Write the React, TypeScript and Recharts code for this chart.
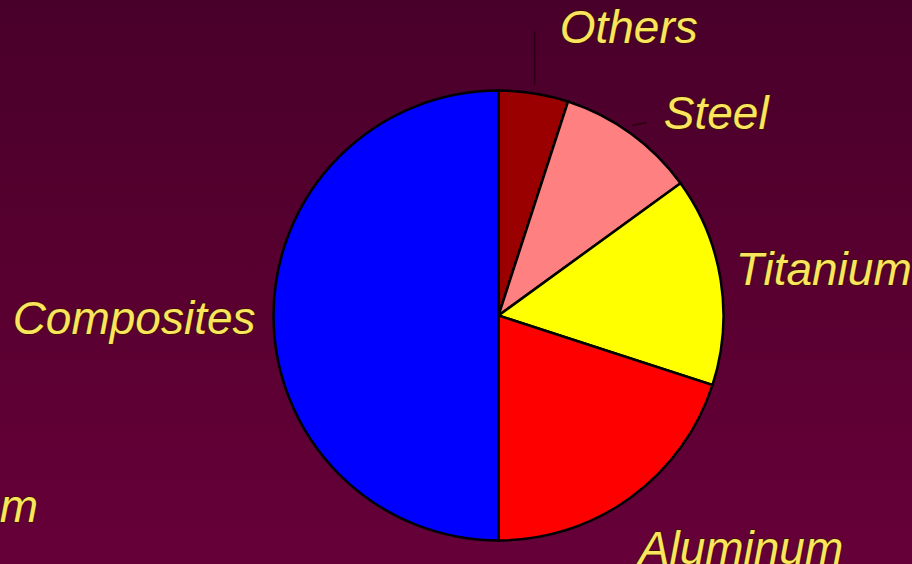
import { PieChart, Pie, Cell } from "recharts";

const materials = ["Others", "Steel", "Titanium", "Aluminum", "Composites"];
const shares = [5, 10, 15, 20, 50];
const sliceColors = ["#9a0000", "#ff8080", "#ffff00", "#ff0000", "#0000ff"];

const data = materials.map((name, i) => ({ name, value: shares[i] }));

// label placement relative to the slice's outer point
const labelOffsets: Record<string, { dx: number; dy: number; anchor: "start" | "end"; leader?: [number, number] }> = {
  Others: { dx: 26, dy: -50, anchor: "start", leader: [1, -62] },
  Steel: { dx: 33, dy: -4, anchor: "start", leader: [16, -11] },
  Titanium: { dx: 15, dy: 5, anchor: "start" },
  Aluminum: { dx: 8, dy: 66, anchor: "start" },
  Composites: { dx: -18, dy: 18, anchor: "end" },
};

const RAD = Math.PI / 180;
const textStyle = {
  fontFamily: "'Liberation Sans', Arial, sans-serif",
  fontStyle: "italic" as const,
  fontSize: 46,
  fill: "#fbe45e",
  stroke: "#3c1400",
  strokeWidth: 1.5,
  paintOrder: "stroke" as const,
};

function renderLabel(props: any) {
  const { cx, cy, outerRadius, midAngle, name } = props;
  const ox = cx + outerRadius * Math.cos(-midAngle * RAD);
  const oy = cy + outerRadius * Math.sin(-midAngle * RAD);
  const o = labelOffsets[name];
  return (
    <g key={name}>
      {o.leader && (
        <line
          x1={ox + 1}
          y1={oy - 8}
          x2={ox + o.leader[0]}
          y2={oy + o.leader[1]}
          stroke="#2a0012"
          strokeWidth={1.5}
        />
      )}
      <text x={ox + o.dx} y={oy + o.dy} textAnchor={o.anchor} style={textStyle}>
        {name}
      </text>
    </g>
  );
}

export default function App() {
  return (
    <div
      style={{
        position: "fixed",
        top: 0,
        left: 0,
        width: 912,
        height: 564,
        overflow: "hidden",
        background: "linear-gradient(to bottom, #48002a 0%, #57002f 45%, #660039 100%)",
      }}
    >
      <svg width={912} height={564} style={{ position: "absolute", top: 0, left: 0 }}>
        <text x={38} y={522} textAnchor="end" style={textStyle}>
          Aluminum
        </text>
      </svg>
      <div style={{ position: "absolute", top: 0, left: 0 }}>
        <PieChart
          width={912}
          height={564}
          margin={{ top: 0, right: 0, bottom: 0, left: 0 }}
          style={{ overflow: "visible" }}
        >
          <Pie
            data={data}
            dataKey="value"
            nameKey="name"
            cx={498.5}
            cy={315.5}
            outerRadius={225}
            startAngle={90}
            endAngle={-270}
            stroke="#000"
            strokeWidth={2.5}
            labelLine={false}
            label={renderLabel}
            isAnimationActive={false}
          >
            {data.map((d, i) => (
              <Cell key={d.name} fill={sliceColors[i]} />
            ))}
          </Pie>
        </PieChart>
      </div>
    </div>
  );
}
